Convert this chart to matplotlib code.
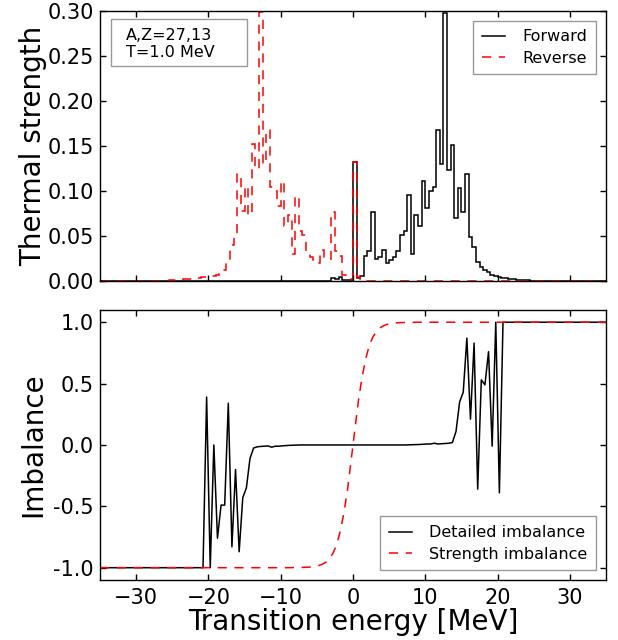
import numpy as np
import matplotlib
matplotlib.use('Agg')
import matplotlib.pyplot as plt
from matplotlib.patches import Rectangle

# histogram bins: 0.5 MeV wide, from -35 to 35 MeV
bin_width = 0.5
e_min, e_max = -35.0, 35.0

# forward thermal strength, first bin starts at fwd_start
fwd_start = -4.0
fwd_vals = [0.0005, 0.001, 0.004, 0.003, 0.005, 0.002, 0.0015, 0.002,
            0.133, 0.004, 0.006, 0.028, 0.034, 0.077, 0.025, 0.027,
            0.035, 0.020, 0.024, 0.027, 0.034, 0.051, 0.056, 0.096,
            0.031, 0.074, 0.062, 0.111, 0.082, 0.100, 0.105, 0.168,
            0.130, 0.298, 0.124, 0.151, 0.070, 0.104, 0.077, 0.119,
            0.049, 0.038, 0.022, 0.016, 0.013, 0.010, 0.007, 0.006,
            0.0045, 0.004, 0.0035, 0.003, 0.0025, 0.002, 0.0017, 0.0014,
            0.0011, 0.0009, 0.0007, 0.0005, 0.0004, 0.0003, 0.0002]

# reverse thermal strength, first bin starts at rev_start
rev_start = -30.0
rev_vals = [0.0002, 0.0003, 0.0003, 0.0004, 0.0005, 0.0006, 0.0007, 0.0008,
            0.001, 0.0012, 0.0014, 0.0017, 0.002, 0.0022, 0.0025, 0.003,
            0.0035, 0.004, 0.0045, 0.005, 0.0055, 0.006, 0.007, 0.010,
            0.013, 0.023, 0.040, 0.050, 0.119, 0.078, 0.106, 0.074,
            0.152, 0.125, 0.299, 0.130, 0.168, 0.105, 0.100, 0.084,
            0.111, 0.062, 0.074, 0.031, 0.095, 0.056, 0.051, 0.034,
            0.027, 0.024, 0.020, 0.035, 0.027, 0.025, 0.077, 0.034,
            0.028, 0.007, 0.004, 0.003, 0.133, 0.005, 0.003, 0.002,
            0.001, 0.0005]

# detailed imbalance
det_e = [-35.0, -20.75, -20.25, -19.75, -19.25, -18.75, -18.25, -17.75, -17.25,
         -16.75, -16.25, -15.75, -15.25, -14.75, -14.25, -13.75, -13.25,
         -12.75, -12.25, -11.75, -11.25, -10.75, -10.25, -9.75, -9.25,
         -8.75, -8.25, -7.75, -7.25, 7.25, 7.75, 8.25, 8.75, 9.25, 9.75,
         10.25, 10.75, 11.25, 11.75, 12.25, 12.75, 13.25, 13.75, 14.25,
         14.75, 15.25, 15.75, 16.25, 16.75, 17.25, 17.75, 18.25, 18.75,
         19.25, 19.75, 20.25, 20.75, 35.0]
det_imb = [-1.0, -1.0, 0.39, -1.0, 0.0, -0.76, -0.49, -0.49, 0.34,
           -0.83, -0.20, -0.87, -0.43, -0.35, -0.11, -0.025, -0.015,
           -0.012, -0.01, -0.008, -0.018, -0.01, -0.01, -0.007, -0.005,
           -0.003, -0.002, -0.001, 0.0, 0.0, 0.001, 0.002, 0.003, 0.004, 0.006,
           0.008, 0.008, 0.014, 0.008, 0.010, 0.012, 0.014, 0.020, 0.11,
           0.35, 0.43, 0.87, 0.21, 0.83, -0.36, 0.53, 0.49, 0.76,
           -0.01, 1.0, -0.39, 1.0, 1.0]

# strength imbalance
str_e = [-35.0, -9.75, -9.25, -8.75, -8.25, -7.75, -7.25, -6.75, -6.25, -5.75,
         -5.25, -4.75, -4.25, -3.75, -3.25, -2.75, -2.25, -1.75, -1.25,
         -0.75, -0.25, 0.25, 0.75, 1.25, 1.75, 2.25, 2.75, 3.25, 3.75,
         4.25, 4.75, 5.25, 5.75, 6.25, 6.75, 7.25, 7.75, 8.25, 8.75,
         9.25, 9.75, 35.0]
str_imb = [-1.0, -1.0, -1.0, -1.0, -0.999, -0.999, -0.998, -0.997, -0.996, -0.994,
           -0.99, -0.983, -0.972, -0.955, -0.925, -0.88, -0.81, -0.70, -0.55,
           -0.36, -0.12, 0.12, 0.36, 0.55, 0.70, 0.81, 0.88, 0.925, 0.955,
           0.972, 0.983, 0.99, 0.994, 0.996, 0.997, 0.998, 0.999, 0.999, 1.0,
           1.0, 1.0, 1.0]

info_lines = ['A,Z=27,13', 'T=1.0 MeV']


def full_hist(start, vals):
    n = int(round((e_max - e_min) / bin_width))
    out = np.zeros(n)
    i0 = int(round((start - e_min) / bin_width))
    out[i0:i0 + len(vals)] = vals
    return out


edges = np.linspace(e_min, e_max, int(round((e_max - e_min) / bin_width)) + 1)
fwd = full_hist(fwd_start, fwd_vals)
rev = full_hist(rev_start, rev_vals)

dash = (0, (6, 5))
leg_kw = dict(fontsize=11.5, fancybox=False, edgecolor='0.6', framealpha=1,
              borderaxespad=0.6, handlelength=1.45, handletextpad=1.1,
              borderpad=0.55, labelspacing=0.4)

fig = plt.figure(figsize=(6.18, 6.4), dpi=100)
ax1 = fig.add_axes([0.1618, 0.5602, 0.8188, 0.4227])
ax2 = fig.add_axes([0.1618, 0.0938, 0.8188, 0.4219])

ax1.stairs(fwd, edges, color='k', lw=1.1, label='Forward')
ax1.stairs(rev, edges, color='r', lw=1.1, linestyle=dash, label='Reverse')
ax1.set_xlim(e_min, e_max)
ax1.set_ylim(0, 0.30)
ax1.set_xticks([-30, -20, -10, 0, 10, 20, 30])
ax1.set_xticklabels([])
ax1.set_yticks([0, 0.05, 0.10, 0.15, 0.20, 0.25, 0.30])
ax1.yaxis.set_major_formatter(plt.FormatStrFormatter('%.2f'))
ax1.set_ylabel('Thermal strength', fontsize=20)
leg1 = ax1.legend(loc='upper right', **leg_kw)
leg1.get_frame().set_linewidth(1.0)

ax1.add_patch(Rectangle((0.0217, 0.797), 0.2688, 0.173, transform=ax1.transAxes,
                        fc='white', ec='0.6', lw=1.0, zorder=5))
ax1.text(0.0514, 0.893, info_lines[0], transform=ax1.transAxes, fontsize=11.5,
         va='baseline', zorder=6)
ax1.text(0.0514, 0.830, info_lines[1], transform=ax1.transAxes, fontsize=11.5,
         va='baseline', zorder=6)

ax2.plot(det_e, det_imb, color='k', lw=1.1, label='Detailed imbalance')
ax2.plot(str_e, str_imb, color='r', lw=1.1, linestyle=dash, label='Strength imbalance')
ax2.set_xlim(e_min, e_max)
ax2.set_ylim(-1.1, 1.1)
ax2.set_xticks([-30, -20, -10, 0, 10, 20, 30])
ax2.set_yticks([-1.0, -0.5, 0.0, 0.5, 1.0])
ax2.yaxis.set_major_formatter(plt.FormatStrFormatter('%.1f'))
ax2.set_ylabel('Imbalance', fontsize=20)
ax2.set_xlabel('Transition energy [MeV]', fontsize=20, labelpad=0)
leg2 = ax2.legend(loc='lower right', **leg_kw)
leg2.get_frame().set_linewidth(1.0)

for ax in (ax1, ax2):
    ax.tick_params(direction='in', top=True, right=True, length=4.5, width=1,
                   labelsize=15)
    ax.tick_params(axis='y', pad=4.5)
    ax.tick_params(axis='x', pad=6)
    ax.yaxis.set_label_coords(-0.105, 0.5)
    for s in ax.spines.values():
        s.set_linewidth(1.0)

fig.savefig('out.png', dpi=100)
